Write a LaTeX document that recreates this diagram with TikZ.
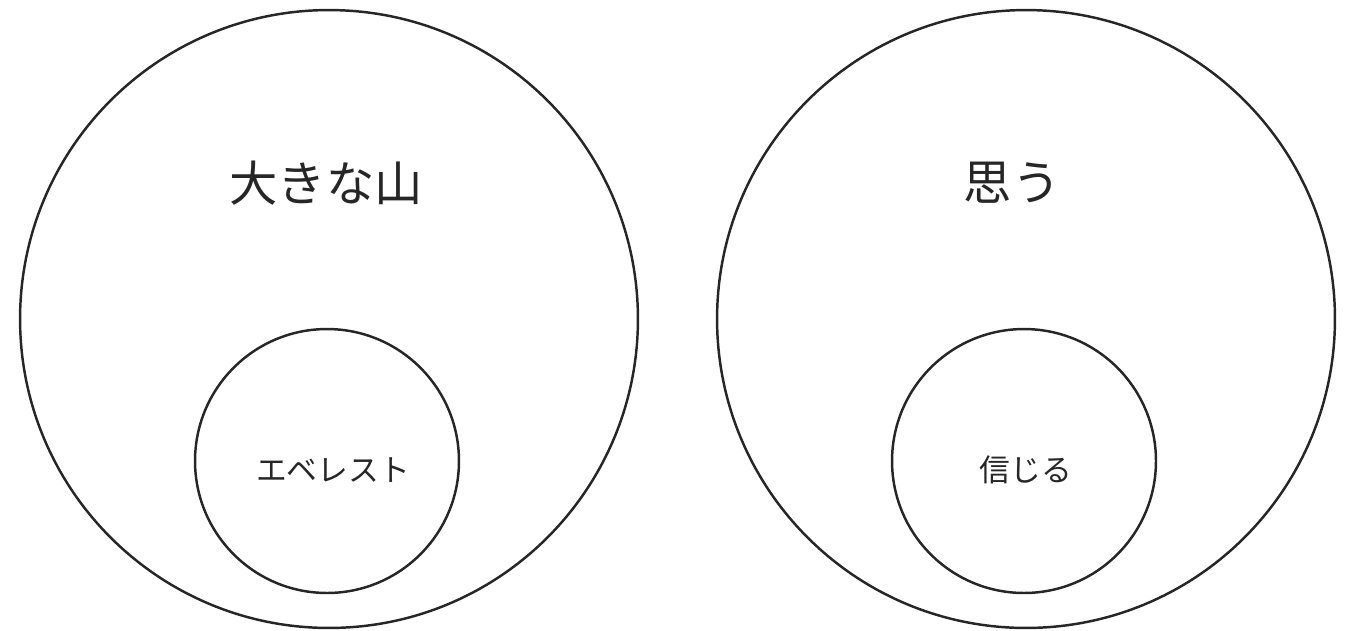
\documentclass[tikz,border=0pt]{standalone}
\usepackage{fontspec}
\usepackage{tikz}
\usetikzlibrary{positioning}
\newfontfamily\jpfont{Noto Sans CJK JP}
\tikzset{
    setCircle/.style={circle, draw=black!85, line width=1.4pt, inner sep=0pt},
    bigSet/.style={setCircle, minimum size=12.36cm},
    subSet/.style={setCircle, minimum size=5.28cm},
    bigLabel/.style={font=\jpfont\fontsize{27.5}{32}\selectfont, text=black!85},
    subLabel/.style={font=\jpfont\fontsize{17.5}{21}\selectfont, text=black!85}
}

\begin{document}
\begin{tikzpicture}[x=0.02cm, y=-0.02cm]
    \useasboundingbox (0,0) rectangle (1354,630);
    % --- left: 大きな山 / エベレスト ---
    \node[bigSet] (mount) at (329,319) {};
    \node[subSet] (everest) at (327,461) {};
    \node[bigLabel] (mountTxt) at (326,183) {大きな山};
    \node[subLabel] (everestTxt) at (333,470) {エベレスト};
    % --- right: 思う / 信じる ---
    \node[bigSet] (think) at (1026,319) {};
    \node[subSet] (believe) at (1024,461) {};
    \node[bigLabel] (thinkTxt) at (1012,183) {思う};
    \node[subLabel] (believeTxt) at (1026,470) {信じる};
\end{tikzpicture}
\end{document}
